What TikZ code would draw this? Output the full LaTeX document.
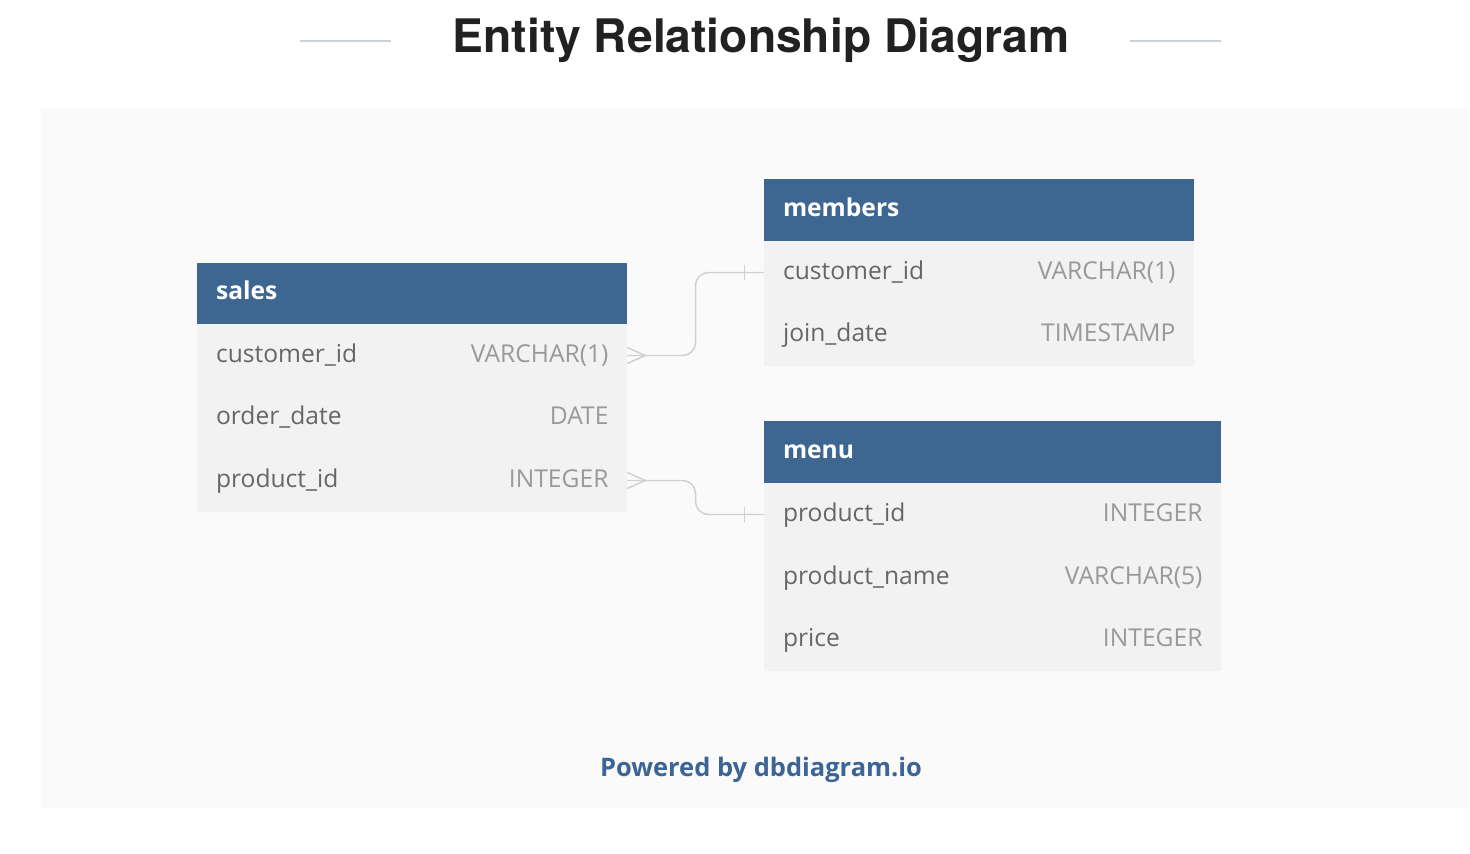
\documentclass[tikz,border=0pt]{standalone}
\usepackage{fontspec}
\setmainfont{Open Sans}
\newfontfamily\titlefont{TeX Gyre Heros}
\usetikzlibrary{calc}

\definecolor{headblue}{HTML}{3D6690}
\definecolor{rowgray}{HTML}{F2F2F2}
\definecolor{panelgray}{HTML}{FAFAFA}
\definecolor{namegray}{HTML}{666666}
\definecolor{typegray}{HTML}{999999}
\definecolor{relgray}{HTML}{D0D0D0}
\definecolor{rulegray}{HTML}{C8D2DB}
\definecolor{linkblue}{HTML}{3C6595}

\tikzset{
  headbox/.style={fill=headblue, minimum height=1.24cm, inner sep=0pt},
  rowbox/.style={fill=rowgray, minimum height=1.25cm, inner sep=0pt},
  headtext/.style={anchor=base west, text=white, inner sep=0pt, xshift=0.38cm, yshift=-0.13cm,
    font=\fontsize{14}{16}\selectfont\bfseries},
  fieldname/.style={anchor=base west, text=namegray, inner sep=0pt, xshift=0.38cm, yshift=-0.14cm,
    font=\fontsize{14}{16}\selectfont},
  fieldtype/.style={anchor=base east, text=typegray, inner sep=0pt, xshift=-0.37cm, yshift=-0.14cm,
    font=\fontsize{14}{16}\selectfont},
  rel/.style={draw=relgray, line width=0.85pt},
}

\begin{document}
\begin{tikzpicture}[x=0.02cm, y=-0.02cm]
      \useasboundingbox (0, 0) rectangle (1470, 854);
      \fill[white] (0, 0) rectangle (1470, 854);
      \fill[panelgray] (41, 108) rectangle (1469, 808);

      % title
      \node[text=black!87, font=\titlefont\fontsize{26.3}{30}\selectfont\bfseries] (title) at (761, 40) {Entity Relationship Diagram};
      \draw[rulegray, line width=1.1pt] (300, 41) -- (391, 41);
      \draw[rulegray, line width=1.1pt] (1130, 41) -- (1221, 41);

      % sales
      \node[headbox, minimum width=8.6cm] (sales) at (412, 293.5) {};
      \node[headtext] at (sales.west) {sales};
      \node[rowbox, minimum width=8.6cm] (sales-cid) at (412, 355.5) {};
      \node[rowbox, minimum width=8.6cm] (sales-date) at (412, 418) {};
      \node[rowbox, minimum width=8.6cm] (sales-pid) at (412, 480.5) {};
      \node[fieldname] at (sales-cid.west) {customer\_id};
      \node[fieldtype] at (sales-cid.east) {VARCHAR(1)};
      \node[fieldname] at (sales-date.west) {order\_date};
      \node[fieldtype] at (sales-date.east) {DATE};
      \node[fieldname] at (sales-pid.west) {product\_id};
      \node[fieldtype] at (sales-pid.east) {INTEGER};

      % members
      \node[headbox, minimum width=8.6cm] (members) at (979, 210) {};
      \node[headtext] at (members.west) {members};
      \node[rowbox, minimum width=8.6cm] (members-cid) at (979, 272.5) {};
      \node[rowbox, minimum width=8.6cm] (members-date) at (979, 335) {};
      \node[fieldname] at (members-cid.west) {customer\_id};
      \node[fieldtype] at (members-cid.east) {VARCHAR(1)};
      \node[fieldname] at (members-date.west) {join\_date};
      \node[fieldtype] at (members-date.east) {TIMESTAMP};

      % menu
      \node[headbox, minimum width=9.14cm] (menu) at (992.5, 452) {};
      \node[headtext] at (menu.west) {menu};
      \node[rowbox, minimum width=9.14cm] (menu-pid) at (992.5, 514.5) {};
      \node[rowbox, minimum width=9.14cm] (menu-name) at (992.5, 577) {};
      \node[rowbox, minimum width=9.14cm] (menu-price) at (992.5, 639.5) {};
      \node[fieldname] at (menu-pid.west) {product\_id};
      \node[fieldtype] at (menu-pid.east) {INTEGER};
      \node[fieldname] at (menu-name.west) {product\_name};
      \node[fieldtype] at (menu-name.east) {VARCHAR(5)};
      \node[fieldname] at (menu-price.west) {price};
      \node[fieldtype] at (menu-price.east) {INTEGER};

      % relations
      \coordinate (bend1) at ($(sales-cid.east)!0.5!(members-cid.west)$);
      \coordinate (bend2) at ($(sales-pid.east)!0.5!(menu-pid.west)$);
      \draw[rel, rounded corners=0.26cm] (sales-cid.east) -| (bend1 |- members-cid.west) -- (members-cid.west);
      \draw[rel] ([yshift=0.16cm]sales-cid.east) -- ([xshift=0.36cm]sales-cid.east) -- ([yshift=-0.16cm]sales-cid.east);
      \draw[rel] ([xshift=-0.38cm, yshift=0.15cm]members-cid.west) -- ([xshift=-0.38cm, yshift=-0.15cm]members-cid.west);

      \draw[rel, rounded corners=0.26cm] (sales-pid.east) -| (bend2 |- menu-pid.west) -- (menu-pid.west);
      \draw[rel] ([yshift=0.16cm]sales-pid.east) -- ([xshift=0.36cm]sales-pid.east) -- ([yshift=-0.16cm]sales-pid.east);
      \draw[rel] ([xshift=-0.38cm, yshift=0.15cm]menu-pid.west) -- ([xshift=-0.38cm, yshift=-0.15cm]menu-pid.west);

      \node[text=linkblue, font=\fontsize{14.5}{17}\selectfont\bfseries] (powered) at (761, 770) {Powered by dbdiagram.io};
    \end{tikzpicture}
\end{document}
